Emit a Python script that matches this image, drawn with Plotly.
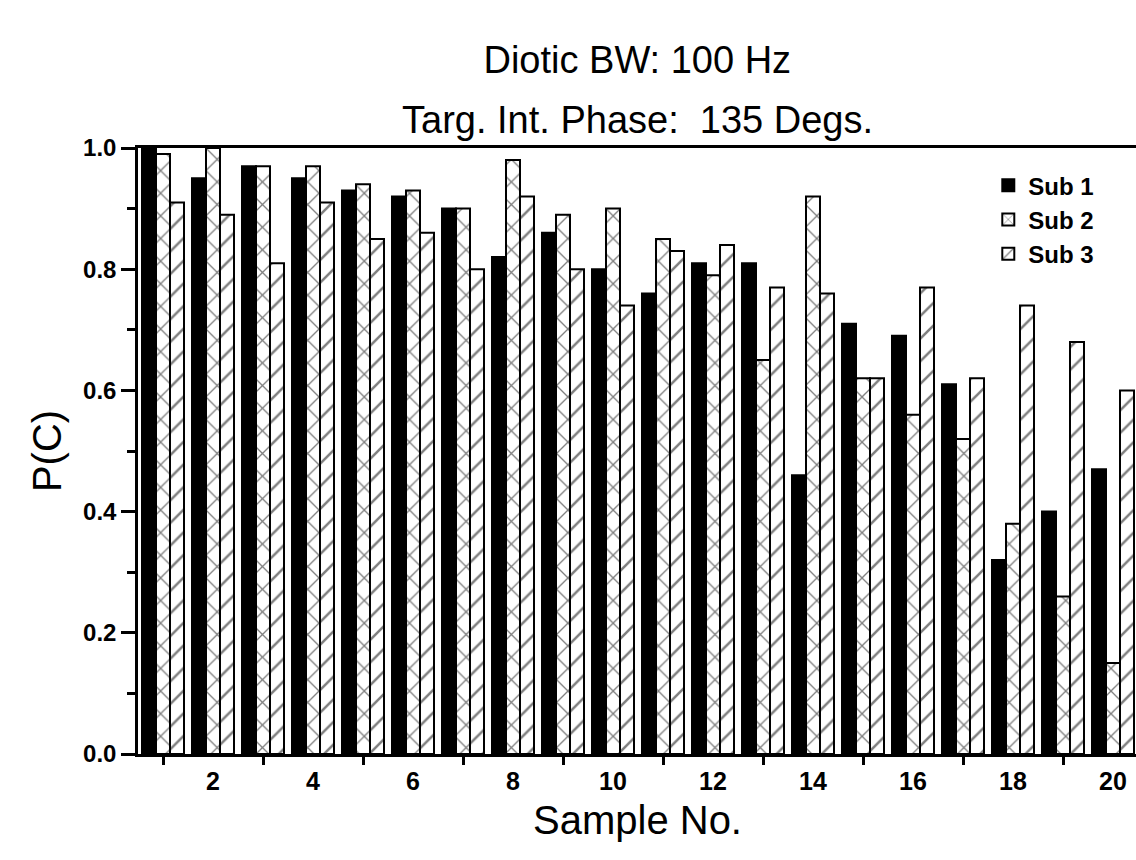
import plotly.graph_objects as go

samples = list(range(1, 21))
sub1 = [1.00, 0.95, 0.97, 0.95, 0.93, 0.92, 0.90, 0.82, 0.86, 0.80,
        0.76, 0.81, 0.81, 0.46, 0.71, 0.69, 0.61, 0.32, 0.40, 0.47]
sub2 = [0.99, 1.00, 0.97, 0.97, 0.94, 0.93, 0.90, 0.98, 0.89, 0.90,
        0.85, 0.79, 0.65, 0.92, 0.62, 0.56, 0.52, 0.38, 0.26, 0.15]
sub3 = [0.91, 0.89, 0.81, 0.91, 0.85, 0.86, 0.80, 0.92, 0.80, 0.74,
        0.83, 0.84, 0.77, 0.76, 0.62, 0.77, 0.62, 0.74, 0.68, 0.60]
names = ["Sub 1", "Sub 2", "Sub 3"]
label_ticks = [2, 4, 6, 8, 10, 12, 14, 16, 18, 20]
mark_ticks = [1, 3, 5, 7, 9, 11, 13, 15, 17, 19]

FONT = "Liberation Sans, Arial, sans-serif"

fig = go.Figure()
fig.add_trace(go.Bar(x=samples, y=sub1, name=names[0],
                     marker=dict(color="black", line=dict(color="black", width=2))))
fig.add_trace(go.Bar(x=samples, y=sub2, name=names[1],
                     marker=dict(color="white", line=dict(color="black", width=2),
                                 pattern=dict(shape="x", size=16, solidity=0.16,
                                              fgcolor="black", bgcolor="white"))))
fig.add_trace(go.Bar(x=samples, y=sub3, name=names[2],
                     marker=dict(color="white", line=dict(color="black", width=2),
                                 pattern=dict(shape="/", size=16, solidity=0.16,
                                              fgcolor="black", bgcolor="white"))))

fig.update_layout(
    width=1136, height=860,
    margin=dict(l=138, r=0, t=148, b=106),
    paper_bgcolor="white", plot_bgcolor="white",
    barmode="group", bargap=0.16, bargroupgap=0.0,
    font=dict(family=FONT, color="black"),
    title=dict(text="Diotic BW: 100 Hz", x=0.561, xanchor="center",
               y=1 - 60 / 860, yref="container", yanchor="middle",
               font=dict(size=38, family=FONT, color="black")),
    legend=dict(x=0.852, y=0.975, xanchor="left", yanchor="top",
                bgcolor="rgba(0,0,0,0)", borderwidth=0,
                font=dict(size=24, family=FONT, color="black", weight="bold"),
                tracegroupgap=2),
    xaxis=dict(range=[0.5, 20.46], showline=True, linecolor="black", linewidth=2.5,
               mirror=True, tickmode="array", tickvals=label_ticks,
               ticktext=[str(v) for v in label_ticks],
               ticks="outside", ticklen=3, tickcolor="rgba(0,0,0,0)",
               tickfont=dict(size=25, family=FONT, weight="bold"),
               minor=dict(tickmode="array", tickvals=mark_ticks, ticks="outside",
                          ticklen=8, tickwidth=2.5, tickcolor="black", showgrid=False),
               showgrid=False, zeroline=False),
    xaxis2=dict(range=[0.5, 20.46], overlaying="x", anchor="y", side="bottom",
                tickmode="array", tickvals=mark_ticks, ticks="inside", ticklen=8,
                tickwidth=2.5, tickcolor="black", showticklabels=False,
                showline=False, showgrid=False, zeroline=False),
    yaxis=dict(range=[0, 1.0], showline=True, linecolor="black", linewidth=2.5,
               tickmode="linear", tick0=0, dtick=0.2, tickformat=".1f",
               ticks="outside", ticklen=14, tickwidth=2.5, tickcolor="black",
               tickfont=dict(size=24, family=FONT, weight="bold"),
               minor=dict(dtick=0.1, ticks="outside", ticklen=8, tickwidth=2.5,
                          tickcolor="black", showgrid=False),
               showgrid=False, zeroline=False,
               title=dict(text="P(C)", font=dict(size=40, family=FONT), standoff=10)),
    annotations=[
        dict(text="Targ. Int. Phase: \u00a0135 Degs.", xref="paper", yref="paper",
             x=0.5, y=(754 - 120) / 606, xanchor="center", yanchor="middle",
             showarrow=False, font=dict(size=38, family=FONT, color="black")),
        dict(text="Sample No.", xref="paper", yref="paper",
             x=0.5, y=-(820 - 754) / 606, xanchor="center", yanchor="middle",
             showarrow=False, font=dict(size=40, family=FONT, color="black")),
    ],
)

fig.write_html("out.html")
